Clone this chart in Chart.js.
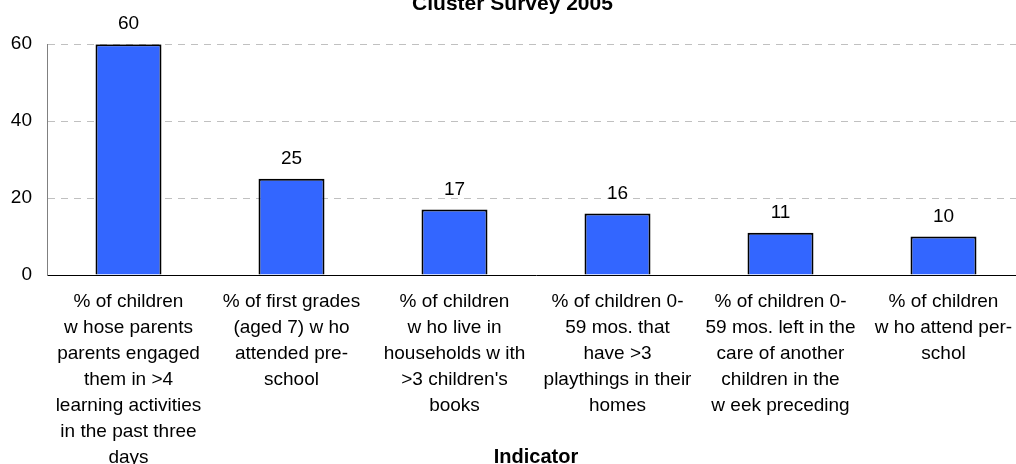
<!DOCTYPE html>
<html><head><meta charset="utf-8">
<script src="https://cdn.jsdelivr.net/npm/chart.js@4/dist/chart.umd.min.js"></script>
<style>
html,body{margin:0;padding:0;overflow:hidden;background:#fff;width:1016px;height:464px;}
#wrap{position:absolute;left:0;top:-8px;width:1030px;height:477px;}
</style></head><body>
<div id="wrap"><canvas id="c"></canvas></div>
<script>
const categories = [
  ["% of children","w hose parents","parents engaged","them in >4","learning activities","in the past three","days"],
  ["% of first grades","(aged 7) w ho","attended pre-","school"],
  ["% of children","w ho live in","households w ith",">3 children's","books"],
  ["% of children 0-","59 mos. that","have >3","playthings in their","homes"],
  ["% of children 0-","59 mos. left in the","care of another","children in the","w eek preceding"],
  ["% of children","w ho attend per-","schol"]
];
const values = [60, 25, 17, 16, 11, 10];
const yTicks = [0, 20, 40, 60];
const chartTitle = "Cluster Survey 2005";
const xAxisTitle = "Indicator";

const FAMILY = '"Liberation Sans", Arial, Helvetica, sans-serif';

const valueLabels = {
  id: 'valueLabels',
  afterDatasetsDraw(chart) {
    const ctx = chart.ctx;
    const meta = chart.getDatasetMeta(0);
    ctx.save();
    ctx.font = '19px ' + FAMILY;
    ctx.fillStyle = '#000';
    ctx.textAlign = 'center';
    ctx.textBaseline = 'middle';
    meta.data.forEach((bar, i) => {
      ctx.fillText(String(values[i]), bar.x, bar.y - 20);
    });
    ctx.restore();
  }
};

new Chart(document.getElementById('c'), {
  type: 'bar',
  data: {
    labels: categories,
    datasets: [{
      data: values,
      backgroundColor: '#3366ff',
      borderColor: '#000000',
      borderWidth: 2,
      categoryPercentage: 1,
      barPercentage: 0.405
    }]
  },
  options: {
    responsive: true,
    maintainAspectRatio: false,
    animation: false,
    devicePixelRatio: 1,
    layout: { padding: { left: 0, right: 5, top: 0, bottom: 0 } },
    plugins: {
      legend: { display: false },
      tooltip: { enabled: false },
      title: {
        display: true,
        text: chartTitle,
        color: '#000',
        font: { family: FAMILY, size: 21, weight: 'bold', lineHeight: 1.2 },
        padding: { top: 0, bottom: 27 }
      }
    },
    scales: {
      x: {
        grid: { display: false, drawTicks: false },
        border: { display: true, color: '#000', width: 1 },
        ticks: {
          color: '#000',
          font: { family: FAMILY, size: 19, lineHeight: '26px' },
          padding: 14,
          maxRotation: 0,
          minRotation: 0,
          autoSkip: false
        },
        title: {
          display: true,
          text: xAxisTitle,
          color: '#000',
          font: { family: FAMILY, size: 20, weight: 'bold', lineHeight: 1.2 },
          padding: 0
        },
        afterFit(scale) { scale.height = 194; }
      },
      y: {
        min: 0,
        max: 60,
        afterBuildTicks(scale) { scale.ticks = yTicks.map(v => ({ value: v })); },
        grid: {
          drawTicks: false,
          color: (c) => (c.tick && c.tick.value === 0) ? 'rgba(0,0,0,0)' : '#c0c0c0',
          lineWidth: 1
        },
        border: { display: true, color: '#808080', width: 1, dash: [7, 6] },
        ticks: {
          color: '#000',
          font: { family: FAMILY, size: 19 },
          padding: 15
        },
        afterFit(scale) { scale.width = 47; }
      }
    }
  },
  plugins: [valueLabels]
});
</script>
</body></html>
